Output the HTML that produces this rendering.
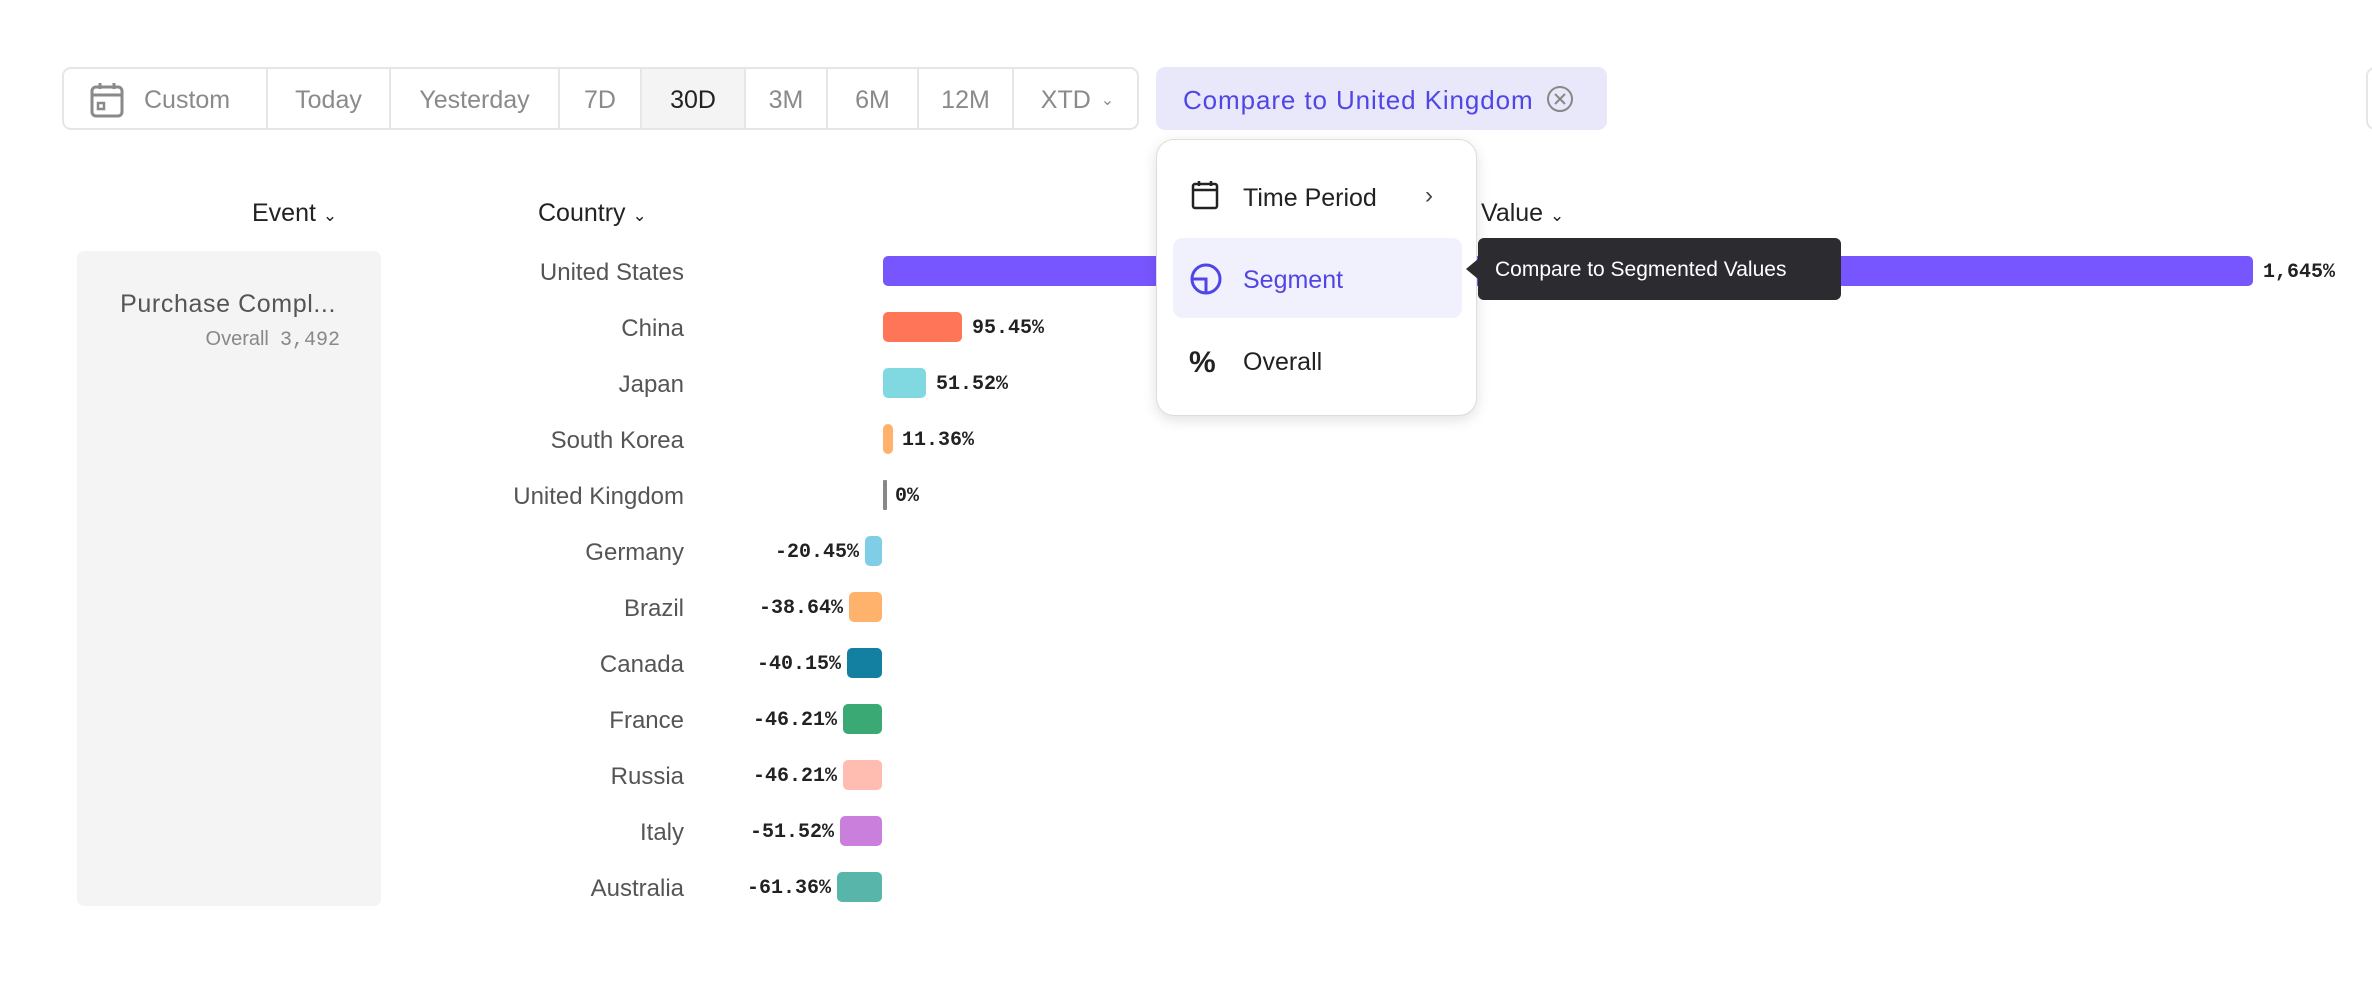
<!DOCTYPE html>
<html><head><meta charset="utf-8"><style>
*{margin:0;padding:0;box-sizing:border-box}
body{width:2372px;height:988px;background:#fff;position:relative;overflow:hidden;font-family:"Liberation Sans",sans-serif}
.a{position:absolute;white-space:nowrap}
.tb{position:absolute;left:62px;top:67px;width:1077px;height:63px;border:2px solid #e6e6e6;border-radius:9px;overflow:hidden}
.seg{position:absolute;top:0;height:100%;border-right:2px solid #e6e6e6;color:#8a8a8a;font-size:25px;display:flex;align-items:center;justify-content:center;padding-top:3px}
.cl{color:#555;font-size:24px;text-align:right;width:400px;left:284px}
.bar{position:absolute;height:30px;border-radius:5px}
.v{font-family:"Liberation Mono",monospace;font-weight:bold;font-size:20px;color:#222}
.h{font-size:25px;color:#222;font-weight:500}
</style></head><body>
<div class="tb">
 <div class="seg" style="left:0;width:204px;justify-content:flex-start;padding-left:26px">
  <svg width="34" height="36" viewBox="0 0 34 36" style="margin-right:20px"><rect x="2" y="5" width="30" height="29" rx="4" fill="none" stroke="#8a8a8a" stroke-width="3"/><line x1="2" y1="13" x2="32" y2="13" stroke="#8a8a8a" stroke-width="3"/><line x1="10" y1="1" x2="10" y2="7" stroke="#8a8a8a" stroke-width="3"/><line x1="24" y1="1" x2="24" y2="7" stroke="#8a8a8a" stroke-width="3"/><rect x="8" y="21" width="6" height="6" fill="none" stroke="#8a8a8a" stroke-width="2.5"/></svg>Custom</div>
 <div class="seg" style="left:204px;width:123px">Today</div>
 <div class="seg" style="left:327px;width:169px">Yesterday</div>
 <div class="seg" style="left:496px;width:82px">7D</div>
 <div class="seg" style="left:578px;width:104px;background:#f4f4f4;color:#222;font-weight:500">30D</div>
 <div class="seg" style="left:682px;width:82px">3M</div>
 <div class="seg" style="left:764px;width:91px">6M</div>
 <div class="seg" style="left:855px;width:95px">12M</div>
 <div class="seg" style="left:950px;width:127px;border-right:none">XTD <span style="font-size:16px;margin-left:10px">&#8964;</span></div>
</div>
<div class="a" style="left:1156px;top:67px;width:451px;height:63px;background:#e8e8fa;border-radius:9px;color:#5046e5;font-size:26px;letter-spacing:0.9px;line-height:66px;padding-left:27px">Compare to United Kingdom
 <svg width="28" height="28" viewBox="0 0 28 28" style="position:absolute;left:390px;top:18px"><circle cx="14" cy="14" r="12" fill="none" stroke="#888" stroke-width="2"/><path d="M9 9L19 19M19 9L9 19" stroke="#888" stroke-width="2"/></svg></div>
<div class="a" style="left:2366px;top:67px;width:20px;height:63px;border:2px solid #e6e6e6;border-radius:9px"></div>

<div class="a h" style="left:252px;top:199px">Event <span style="font-size:17px">&#8964;</span></div>
<div class="a h" style="left:538px;top:199px">Country <span style="font-size:17px">&#8964;</span></div>
<div class="a h" style="left:1481px;top:199px">Value <span style="font-size:17px">&#8964;</span></div>

<div class="a" style="left:77px;top:251px;width:304px;height:655px;background:#f4f4f4;border-radius:7px"></div>
<div class="a" style="left:36px;width:300px;text-align:right;top:290px;font-size:25px;letter-spacing:0.6px;color:#555">Purchase Compl...</div>
<div class="a" style="left:40px;width:300px;text-align:right;top:328px;font-size:20px;color:#888">Overall &nbsp;<span style="font-family:'Liberation Mono',monospace">3,492</span></div>

<div class="a cl" style="top:259px">United States</div>
<div class="a cl" style="top:315px">China</div>
<div class="a cl" style="top:371px">Japan</div>
<div class="a cl" style="top:427px">South Korea</div>
<div class="a cl" style="top:483px">United Kingdom</div>
<div class="a cl" style="top:539px">Germany</div>
<div class="a cl" style="top:595px">Brazil</div>
<div class="a cl" style="top:651px">Canada</div>
<div class="a cl" style="top:707px">France</div>
<div class="a cl" style="top:763px">Russia</div>
<div class="a cl" style="top:819px">Italy</div>
<div class="a cl" style="top:875px">Australia</div>

<div class="bar" style="left:883px;width:1370px;top:256px;background:#7856ff"></div>
<div class="a v" style="left:2263px;top:261px">1,645%</div>
<div class="bar" style="left:883px;width:79px;top:312px;background:#ff7557"></div>
<div class="a v" style="left:972px;top:317px">95.45%</div>
<div class="bar" style="left:883px;width:43px;top:368px;background:#80d9e0"></div>
<div class="a v" style="left:936px;top:373px">51.52%</div>
<div class="bar" style="left:883px;width:10px;top:424px;background:#ffb26b"></div>
<div class="a v" style="left:902px;top:429px">11.36%</div>
<div class="bar" style="left:883px;width:4px;top:480px;background:#888;border-radius:1px"></div>
<div class="a v" style="left:895px;top:485px">0%</div>

<div class="bar" style="left:865px;width:17px;top:536px;background:#80cde8"></div>
<div class="a v" style="right:1513px;top:541px">-20.45%</div>
<div class="bar" style="left:849px;width:33px;top:592px;background:#ffb26b"></div>
<div class="a v" style="right:1529px;top:597px">-38.64%</div>
<div class="bar" style="left:847px;width:35px;top:648px;background:#1380a1"></div>
<div class="a v" style="right:1531px;top:653px">-40.15%</div>
<div class="bar" style="left:843px;width:39px;top:704px;background:#3ba974"></div>
<div class="a v" style="right:1535px;top:709px">-46.21%</div>
<div class="bar" style="left:843px;width:39px;top:760px;background:#ffbcb0"></div>
<div class="a v" style="right:1535px;top:765px">-46.21%</div>
<div class="bar" style="left:840px;width:42px;top:816px;background:#c97fdb"></div>
<div class="a v" style="right:1538px;top:821px">-51.52%</div>
<div class="bar" style="left:837px;width:45px;top:872px;background:#58b5aa"></div>
<div class="a v" style="right:1541px;top:877px">-61.36%</div>

<div class="a" style="left:1156px;top:139px;width:321px;height:277px;background:#fff;border:1px solid #ddd;border-radius:18px;box-shadow:0 4px 14px rgba(0,0,0,.12)">
 <svg class="a" style="left:34px;top:40px" width="28" height="30" viewBox="0 0 28 30"><rect x="2" y="4" width="24" height="24" rx="2" fill="none" stroke="#222" stroke-width="2.5"/><line x1="2" y1="10" x2="26" y2="10" stroke="#222" stroke-width="2.5"/><line x1="8" y1="1" x2="8" y2="6" stroke="#222" stroke-width="2.5"/><line x1="20" y1="1" x2="20" y2="6" stroke="#222" stroke-width="2.5"/></svg>
 <div class="a" style="left:86px;top:44px;font-size:25px;color:#222">Time Period</div>
 <div class="a" style="left:268px;top:42px;font-size:24px;color:#444">&#8250;</div>
 <div class="a" style="left:16px;top:98px;width:289px;height:80px;background:#f1f0fd;border-radius:10px"></div>
 <svg class="a" style="left:32px;top:122px" width="34" height="34" viewBox="0 0 34 34"><circle cx="17" cy="17" r="14" fill="none" stroke="#5046e5" stroke-width="3"/><path d="M3 17H17V31" fill="none" stroke="#5046e5" stroke-width="3"/></svg>
 <div class="a" style="left:86px;top:126px;font-size:25px;color:#5046e5">Segment</div>
 <div class="a" style="left:32px;top:206px;font-size:30px;color:#222;font-weight:bold">%</div>
 <div class="a" style="left:86px;top:208px;font-size:25px;color:#222">Overall</div>
</div>

<div class="a" style="left:1478px;top:238px;width:363px;height:62px;background:#2b2b30;border-radius:6px;color:#fff;font-size:21px;line-height:64px;padding-left:17px">Compare to Segmented Values</div>
<div class="a" style="left:1466px;top:259px;width:0;height:0;border-top:10px solid transparent;border-bottom:10px solid transparent;border-right:12px solid #2b2b30"></div>
</body></html>
